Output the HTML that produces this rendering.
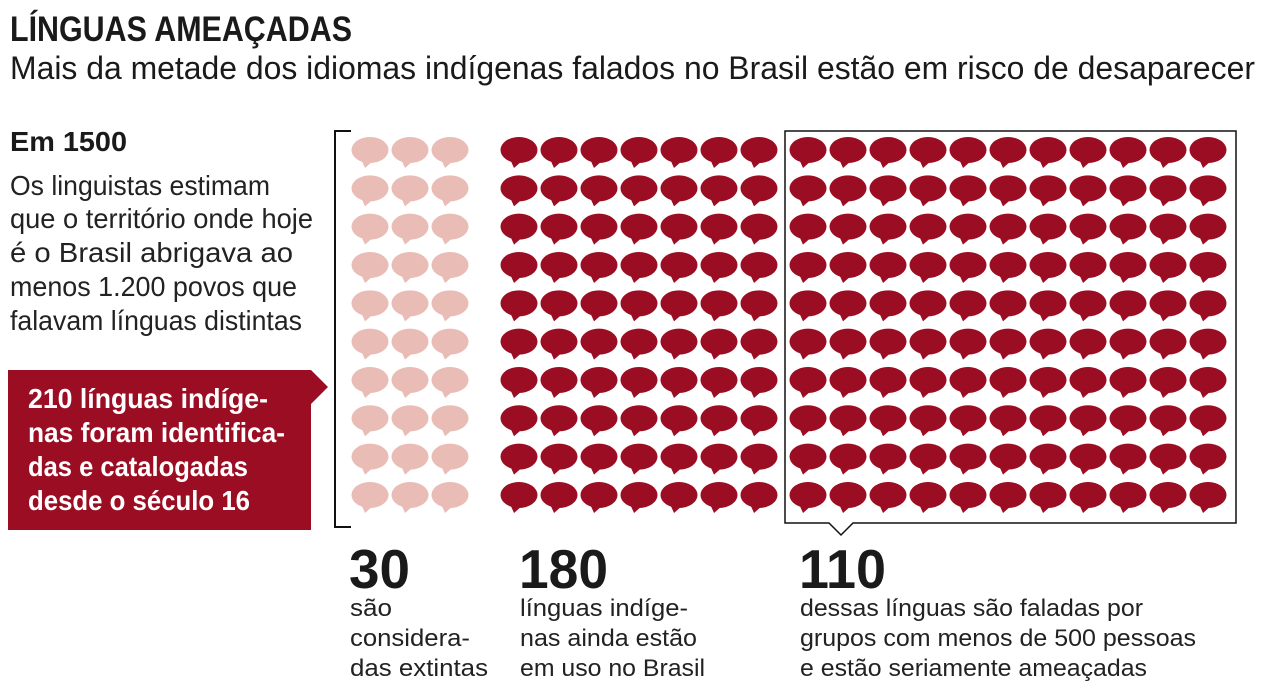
<!DOCTYPE html>
<html><head><meta charset="utf-8"><style>
html,body{margin:0;padding:0;background:#fff;}
svg{display:block;font-family:"Liberation Sans",sans-serif;}
</style></head><body>
<svg id="s" width="1264" height="688" viewBox="0 0 1264 688" xmlns="http://www.w3.org/2000/svg">
<text x="10" y="41" font-size="35" font-weight="bold" fill="#1a1a1a" textLength="342" lengthAdjust="spacingAndGlyphs">LÍNGUAS AMEAÇADAS</text>
<text x="10" y="79" font-size="32" fill="#1a1a1a" textLength="1245" lengthAdjust="spacingAndGlyphs">Mais da metade dos idiomas indígenas falados no Brasil estão em risco de desaparecer</text>
<text x="10" y="151" font-size="28" font-weight="bold" fill="#1a1a1a" textLength="117" lengthAdjust="spacingAndGlyphs">Em 1500</text>
<g font-size="28" fill="#222">
<text x="10" y="195" textLength="260" lengthAdjust="spacingAndGlyphs">Os linguistas estimam</text>
<text x="10" y="228" textLength="303" lengthAdjust="spacingAndGlyphs">que o território onde hoje</text>
<text x="10" y="262" textLength="283" lengthAdjust="spacingAndGlyphs">é o Brasil abrigava ao</text>
<text x="10" y="296" textLength="287" lengthAdjust="spacingAndGlyphs">menos 1.200 povos que</text>
<text x="10" y="330" textLength="292" lengthAdjust="spacingAndGlyphs">falavam línguas distintas</text>
</g>
<polygon points="8,370 311,370 328,387 311,404 311,530 8,530" fill="#9b0d22"/>
<g font-size="28" font-weight="bold" fill="#fff">
<text x="28" y="408" textLength="240" lengthAdjust="spacingAndGlyphs">210 línguas indíge-</text>
<text x="28" y="442" textLength="257" lengthAdjust="spacingAndGlyphs">nas foram identifica-</text>
<text x="28" y="476" textLength="220" lengthAdjust="spacingAndGlyphs">das e catalogadas</text>
<text x="28" y="510" textLength="222" lengthAdjust="spacingAndGlyphs">desde o século 16</text>
</g>
<polyline points="351,131 335,131 335,527 351,527" fill="none" stroke="#111" stroke-width="2"/>
<polygon points="785,131 1236,131 1236,523 853,523 841,535 829,523 785,523" fill="none" stroke="#111" stroke-width="1.5"/>
<g id="b"></g>
<g font-weight="bold" fill="#1a1a1a" font-size="55">
<text x="349" y="588" textLength="61" lengthAdjust="spacingAndGlyphs">30</text>
<text x="519" y="588" textLength="89" lengthAdjust="spacingAndGlyphs">180</text>
<text x="799" y="588" textLength="87" lengthAdjust="spacingAndGlyphs">110</text>
</g>
<g font-size="24" fill="#222">
<text x="350" y="616" textLength="42" lengthAdjust="spacingAndGlyphs">são</text>
<text x="350" y="646" textLength="120" lengthAdjust="spacingAndGlyphs">considera-</text>
<text x="350" y="676" textLength="138" lengthAdjust="spacingAndGlyphs">das extintas</text>
<text x="520" y="616" textLength="168" lengthAdjust="spacingAndGlyphs">línguas indíge-</text>
<text x="520" y="646" textLength="177" lengthAdjust="spacingAndGlyphs">nas ainda estão</text>
<text x="520" y="676" textLength="185" lengthAdjust="spacingAndGlyphs">em uso no Brasil</text>
<text x="800" y="616" textLength="343" lengthAdjust="spacingAndGlyphs">dessas línguas são faladas por</text>
<text x="800" y="646" textLength="396" lengthAdjust="spacingAndGlyphs">grupos com menos de 500 pessoas</text>
<text x="800" y="676" textLength="347" lengthAdjust="spacingAndGlyphs">e estão seriamente ameaçadas</text>
</g>
</svg>
<script>
var g=document.getElementById('b'),h='';
function bub(cx,cy,c){h+='<ellipse cx="'+cx+'" cy="'+cy+'" rx="18.5" ry="13" fill="'+c+'"/><polygon points="'+(cx-9)+','+(cy+9)+' '+(cx-5)+','+(cy+18)+' '+(cx+3)+','+(cy+11)+'" fill="'+c+'"/>';}
for(var r=0;r<10;r++){var cy=150+r*38.33;
for(var i=0;i<3;i++)bub(370+i*40,cy,'#e9bcb5');
for(var i=0;i<7;i++)bub(519+i*40,cy,'#9b0d22');
for(var i=0;i<11;i++)bub(808+i*40,cy,'#9b0d22');}
g.innerHTML=h;
</script>
</body></html>
